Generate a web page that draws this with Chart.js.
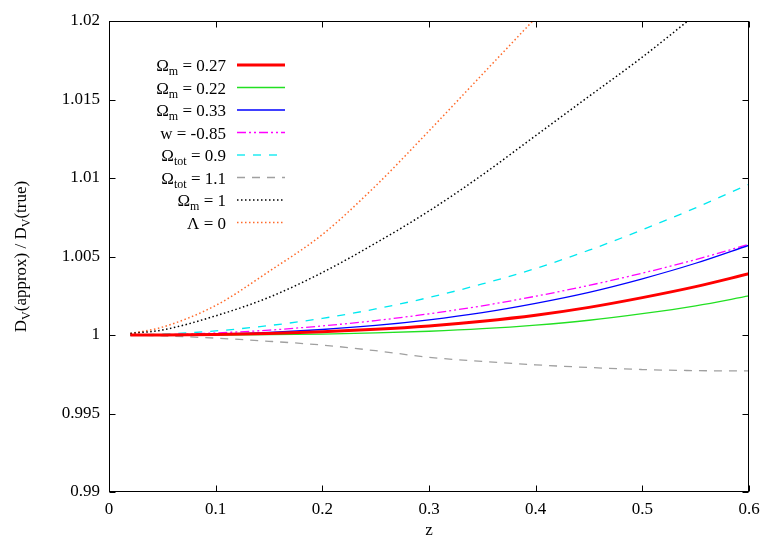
<!DOCTYPE html>
<html>
<head>
<meta charset="utf-8">
<script src="https://cdn.jsdelivr.net/npm/chart.js@4.4.1/dist/chart.umd.min.js"></script>
<style>
  html, body { margin: 0; padding: 0; background: #fff; }
  #wrap { width: 778px; height: 545px; }
</style>
</head>
<body>
<div id="wrap"><canvas id="chart"></canvas></div>
<script>
// redshift samples shared by every curve
const zValues = [0.02, 0.05, 0.1, 0.15, 0.2, 0.25, 0.3, 0.35, 0.4, 0.45, 0.5, 0.55, 0.6]

// ratio D_V(approx) / D_V(true)
const omegaM027 = [1.0, 1.0, 1.00003, 1.0001, 1.0002, 1.00036, 1.00058, 1.00088, 1.00126, 1.00176, 1.00238, 1.00308, 1.0039]
const omegaM022 = [1.0, 1.0, 1.0, 1.00002, 1.00006, 1.00013, 1.00024, 1.0004, 1.00063, 1.00094, 1.00136, 1.00186, 1.00249]
const omegaM033 = [1.0, 1.0, 1.00006, 1.00017, 1.00035, 1.00061, 1.00097, 1.00143, 1.00202, 1.00272, 1.00358, 1.00457, 1.00572]
const wMinus085 = [1.0, 1.00002, 1.00013, 1.00031, 1.00058, 1.00092, 1.00135, 1.00186, 1.00247, 1.00316, 1.00394, 1.0048, 1.00578]
const omegaTot09 = [1.0, 1.00005, 1.00026, 1.0006, 1.00106, 1.00166, 1.00239, 1.00325, 1.00424, 1.0054, 1.0067, 1.0081, 1.0096]
const omegaTot11 = [1.0, 0.99995, 0.9998, 0.9996, 0.99936, 0.999, 0.99858, 0.99832, 0.9981, 0.99793, 0.9978, 0.99773, 0.99771]
const omegaM1 = [1.0001, 1.00032, 1.00122, 1.0024, 1.00398, 1.00585, 1.0079, 1.0102, 1.0127, 1.0152, 1.0177, 1.0204]
const lambda0 = [1.0001, 1.0005, 1.00188, 1.00405, 1.0064, 1.0095, 1.013, 1.0166, 1.0202, 1.0238]

const legendLabels = [
  "Ω_{m} = 0.27",
  "Ω_{m} = 0.22",
  "Ω_{m} = 0.33",
  "w = -0.85",
  "Ω_{tot} = 0.9",
  "Ω_{tot} = 1.1",
  "Ω_{m} = 1",
  "Λ = 0",
]
const xTicks = [0, 0.1, 0.2, 0.3, 0.4, 0.5, 0.6]
const yTicks = [0.99, 0.995, 1, 1.005, 1.01, 1.015, 1.02]
const xTitle = "z"
const yTitle = "D_{V}(approx) / D_{V}(true)"

const serif = '"Liberation Serif", "Times New Roman", serif'

function points(values) {
  return values.map((v, i) => ({x: zValues[i], y: v}))
}

function curve(label, values, color, width, dash) {
  return {
    label: label,
    data: points(values),
    borderColor: color,
    borderWidth: width,
    borderDash: dash,
    pointRadius: 0,
    fill: false,
    cubicInterpolationMode: "monotone",
  }
}

// splits "Ω_{m} = 1" into normal and subscript pieces
function splitSub(text) {
  const parts = []
  const re = /_\{([^}]*)\}/g
  let last = 0
  let m
  while ((m = re.exec(text)) !== null) {
    if (m.index > last) parts.push({t: text.slice(last, m.index), sub: false})
    parts.push({t: m[1], sub: true})
    last = m.index + m[0].length
  }
  if (last < text.length) parts.push({t: text.slice(last), sub: false})
  return parts
}

function drawRich(ctx, text, x, y, align) {
  const parts = splitSub(text)
  let total = 0
  parts.forEach(p => {
    ctx.font = (p.sub ? "12px " : "17px ") + serif
    p.w = ctx.measureText(p.t).width
    total += p.w
  })
  let cx = align === "right" ? x - total : x - total / 2
  ctx.textAlign = "left"
  ctx.textBaseline = "alphabetic"
  parts.forEach(p => {
    ctx.font = (p.sub ? "12px " : "17px ") + serif
    ctx.fillText(p.t, cx, p.sub ? y + 4 : y)
    cx += p.w
  })
}

const gnuplotFrame = {
  id: "gnuplotFrame",
  afterDatasetsDraw(chart) {
    const {ctx, chartArea: a, scales: {x, y}} = chart
    const l = Math.round(a.left) + 0.5
    const r = Math.round(a.right) - 0.5
    const t = Math.round(a.top) + 0.5
    const b = Math.round(a.bottom) - 0.5
    ctx.save()
    ctx.strokeStyle = "#000"
    ctx.lineWidth = 1
    ctx.setLineDash([])
    ctx.strokeRect(l, t, r - l, b - t)
    ctx.beginPath()
    yTicks.forEach(v => {
      const py = Math.round(y.getPixelForValue(v)) + 0.5
      ctx.moveTo(l, py); ctx.lineTo(l + 6, py)
      ctx.moveTo(r, py); ctx.lineTo(r - 6, py)
    })
    xTicks.forEach(v => {
      const px = Math.round(x.getPixelForValue(v)) + 0.5
      ctx.moveTo(px, b); ctx.lineTo(px, b - 6)
      ctx.moveTo(px, t); ctx.lineTo(px, t + 6)
    })
    ctx.stroke()

    // key, gnuplot style: text right aligned, sample line on the right
    ctx.fillStyle = "#000"
    chart.data.datasets.forEach((ds, i) => {
      const rowY = 65 + i * 22.5
      drawRich(ctx, legendLabels[i], 226, rowY + 6, "right")
      ctx.beginPath()
      ctx.strokeStyle = ds.borderColor
      ctx.lineWidth = ds.borderWidth
      ctx.setLineDash(ds.borderDash || [])
      ctx.moveTo(237, rowY)
      ctx.lineTo(285, rowY)
      ctx.stroke()
    })
    ctx.setLineDash([])

    // y axis title, rotated
    ctx.translate(20, (a.top + a.bottom) / 2)
    ctx.rotate(-Math.PI / 2)
    drawRich(ctx, yTitle, 0, 6, "center")
    ctx.restore()
  }
}

const config = {
  type: "line",
  data: {
    datasets: [
      curve(legendLabels[0], omegaM027, "#ff0000", 3, []),
      curve(legendLabels[1], omegaM022, "#22e022", 1.3, []),
      curve(legendLabels[2], omegaM033, "#0000ff", 1.3, []),
      curve(legendLabels[3], wMinus085, "#ff00ff", 1.3, [9, 3, 2, 3, 2, 3]),
      curve(legendLabels[4], omegaTot09, "#00e8f0", 1.3, [8, 8]),
      curve(legendLabels[5], omegaTot11, "#a0a0a0", 1.3, [8, 7]),
      curve(legendLabels[6], omegaM1, "#000000", 1.5, [1.5, 2.5]),
      curve(legendLabels[7], lambda0, "#ff6a2a", 1.5, [1.5, 2.5]),
    ]
  },
  options: {
    responsive: true,
    maintainAspectRatio: false,
    animation: false,
    layout: {
      padding: {top: 21, right: 29, left: 0, bottom: 0}
    },
    plugins: {
      legend: {display: false},
      tooltip: {enabled: false}
    },
    scales: {
      x: {
        type: "linear",
        min: 0,
        max: 0.6,
        afterFit: s => { s.height = 53 },
        afterBuildTicks: s => { s.ticks = xTicks.map(v => ({value: v})) },
        grid: {display: false, drawTicks: false},
        border: {display: false},
        ticks: {
          color: "#000",
          font: {family: serif, size: 17},
          padding: 7,
          maxRotation: 0,
          callback: v => String(+Number(v).toFixed(3))
        },
        title: {
          display: true,
          text: xTitle,
          color: "#000",
          font: {family: serif, size: 17},
          padding: {top: 0, bottom: 4}
        }
      },
      y: {
        type: "linear",
        min: 0.99,
        max: 1.02,
        afterFit: s => { s.width = 109 },
        afterBuildTicks: s => { s.ticks = yTicks.map(v => ({value: v})) },
        grid: {display: false, drawTicks: false},
        border: {display: false},
        ticks: {
          color: "#000",
          font: {family: serif, size: 17},
          padding: 9,
          callback: v => String(+Number(v).toFixed(3))
        }
      }
    }
  },
  plugins: [gnuplotFrame]
}

new Chart(document.getElementById("chart"), config)
</script>
</body>
</html>
